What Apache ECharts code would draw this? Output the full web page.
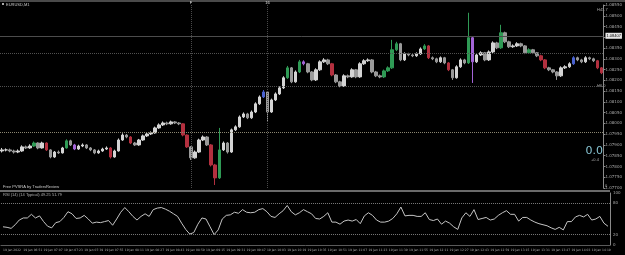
<!DOCTYPE html>
<html><head><meta charset="utf-8">
<script src="https://cdn.jsdelivr.net/npm/echarts@6/dist/echarts.min.js"></script>
<style>html,body{margin:0;padding:0;background:#000;}#c{width:625px;height:255px;}</style>
</head><body><div id="c"></div>
<script>
// price values in points above 1.07700 (1 point = 0.00001)
const opens = [172,177,177,172,167,172,191,186,195,209, 186,209,177,144,167,163,186,219,200,181, 195,200,186,177,163,172,181,186,144,172, 223,246,237,209,200,223,242,251,256,279, 293,302,298,307,302,298,246,191,140,167, 223,237,200,107,47,177,209,167,270,284, 330,344,326,353,391,423,446,353,409,437, 465,512,558,493,539,586,577,539,502,549, 586,595,577,525,493,474,521,516,549,516, 577,591,595,539,521,516,544,558,642,670, 595,623,618,614,623,646,660,605,600,586, 605,581,549,512,563,595,581,698,586,618, 628,595,632,674,651,721,679,656,660,670, 660,628,642,628,614,595,558,549,539,521, 558,563,577,605,595,586,605,600,591,558];
const closes = [177,177,172,167,172,191,186,195,209,186, 209,177,144,167,163,186,219,200,181,195, 200,186,177,163,172,181,186,144,172,223, 246,237,209,200,223,242,251,256,279,293, 302,298,307,302,298,246,191,140,167,223, 237,200,107,47,177,209,167,270,284,330, 344,326,353,391,423,446,353,409,437,465, 512,558,493,539,586,577,539,502,549,586, 595,577,525,493,474,521,516,549,516,577, 591,595,539,521,516,544,558,642,670,595, 623,618,614,623,646,660,605,600,586,605, 581,549,512,563,595,581,698,586,618,628, 595,632,674,651,721,679,656,660,670,660, 628,642,628,614,595,558,549,539,521,558, 563,577,605,595,586,605,600,591,558,535];
const highs = [186,184,183,178,179,198,197,203,216,212, 215,212,180,172,174,191,226,224,205,201, 207,204,190,181,178,187,193,190,178,230, 254,251,241,214,228,248,257,263,285,300, 309,308,313,311,306,301,249,195,174,229, 244,241,204,112,279,216,213,276,291,337, 351,349,360,398,430,455,450,415,444,472, 519,567,562,546,595,593,581,543,556,593, 603,600,581,529,498,528,527,556,553,584, 598,602,599,544,527,550,565,688,679,674, 630,628,624,630,653,668,664,611,605,611, 609,585,553,570,602,600,814,703,625,635, 632,639,681,679,758,726,684,667,677,675, 664,649,646,632,619,599,563,553,543,565, 570,584,612,610,600,612,610,605,595,562];
const lows = [165,170,166,160,162,168,181,182,191,180, 183,172,138,140,158,160,183,195,176,177, 190,181,171,157,159,168,177,137,141,169, 219,231,204,195,196,219,237,246,252,275, 288,292,294,297,292,240,186,130,136,163, 218,195,100,14,42,172,160,163,265,280, 325,320,321,348,386,418,307,349,404,432, 460,507,487,489,534,570,533,496,497,544, 581,571,519,487,468,470,510,512,510,512, 572,586,533,515,510,511,539,553,636,589, 590,612,608,609,618,641,599,594,580,581, 575,543,502,508,558,575,576,488,581,613, 589,590,627,645,646,673,650,651,655,654, 622,623,622,608,589,552,543,533,502,516, 553,558,572,589,580,581,594,585,552,529];
const climaxIdx = [8,11,16,27,32,45,46,52,53,54,71,74,82,95,96,97,98,105,106,111,116,124,131,134,135,148,149];
const risingIdx = [18,65,75,117,142];
const rsi = [35,34,32,39,48,52,52,59,52,56, 45,36,33,43,45,53,64,60,51,52, 57,50,42,44,43,45,47,38,50,63, 72,64,55,48,55,60,55,68,71,72, 69,65,60,55,42,30,21,24,40,52, 50,35,20,29,50,57,58,63,61,68, 63,62,63,68,70,64,55,53,60,66, 76,64,58,62,68,64,60,51,50,55, 62,44,44,40,46,48,46,49,41,56, 62,57,48,44,44,46,51,60,73,56, 57,57,55,55,62,49,47,50,40,46, 42,35,30,52,62,55,68,49,51,53, 48,50,57,62,66,59,59,46,53,53, 48,44,41,39,37,33,30,34,29,45, 45,54,57,54,59,48,50,55,42,36];
const timeLabels = ['19 Jan 2022','19 Jan 06:51','19 Jan 07:07','19 Jan 07:23','19 Jan 07:39','19 Jan 07:55','19 Jan 08:11','19 Jan 08:27','19 Jan 08:43','19 Jan 08:59','19 Jan 09:15','19 Jan 09:31','19 Jan 09:47','19 Jan 10:03','19 Jan 10:19','19 Jan 10:35','19 Jan 10:51','19 Jan 11:07','19 Jan 11:23','19 Jan 11:39','19 Jan 11:55','19 Jan 12:11','19 Jan 12:27','19 Jan 12:43','19 Jan 12:59','19 Jan 13:15','19 Jan 13:31','19 Jan 13:47','19 Jan 14:03','19 Jan 14:19'];
const levelLines = [707, 628, 474, 260];
const rsiLevels = [20, 80];
const vLineIdx = [47, 66];
const vLineText = ['F', '16'];
const priceBase = 1.077;

const fmtPrice = v => (priceBase + v / 100000).toFixed(5);
const categories = closes.map((_, i) => String(i));
const candleData = closes.map((c, i) => {
  const bull = c >= opens[i];
  let col;
  if (climaxIdx.includes(i)) col = bull ? '#2f9a55' : '#b3303f';
  else if (risingIdx.includes(i)) col = bull ? '#4a62d0' : '#a464d8';
  else col = bull ? '#d4d4d4' : '#9a9a9a';
  return { value: [opens[i], c, lows[i], highs[i]], itemStyle: { color: col, color0: col, borderColor: col, borderColor0: col, borderWidth: 1 } };
});

const chart = echarts.init(document.getElementById('c'), null, { renderer: 'canvas' });
const small = { fontSize: 4, color: '#a8a8a8', fontFamily: 'DejaVu Sans' };
chart.setOption({
  backgroundColor: '#000000',
  animation: false,
  grid: [
    { left: 0, right: 15, top: 5, height: 183 },
    { left: 0, right: 15, top: 193, height: 52 }
  ],
  xAxis: [
    { type: 'category', gridIndex: 0, data: categories, boundaryGap: true, axisLine: { show: false }, axisTick: { show: false }, axisLabel: { show: false }, splitLine: { show: false } },
    { type: 'category', gridIndex: 1, data: categories, boundaryGap: true,
      axisLine: { show: true, lineStyle: { color: '#5a5a5a' } }, axisTick: { show: false },
      axisLabel: Object.assign({}, small, { fontSize: 3, interval: 4, align: 'left', margin: 4, formatter: (v, idx) => timeLabels[Math.round(idx / 5)] || '' }),
      splitLine: { show: false } }
  ],
  yAxis: [
    { type: 'value', gridIndex: 0, position: 'right', min: 0, max: 850, interval: 50,
      axisLine: { show: true, lineStyle: { color: '#8a8a8a' } }, axisTick: { show: true, length: 2, lineStyle: { color: '#8a8a8a' } },
      axisLabel: Object.assign({ margin: 2, formatter: fmtPrice }, small), splitLine: { show: false } },
    { type: 'value', gridIndex: 1, position: 'right', min: 0, max: 100, interval: 20,
      axisLine: { show: true, lineStyle: { color: '#8a8a8a' } }, axisTick: { show: false },
      axisLabel: Object.assign({ margin: 3, formatter: v => ([0, 20, 80, 100].includes(v) ? String(v) : '') }, small), splitLine: { show: false } }
  ],
  series: [
    { type: 'candlestick', xAxisIndex: 0, yAxisIndex: 0, data: candleData, barWidth: 3,
      markLine: { silent: true, symbol: ['none', 'none'],
        data: [
          ...vLineIdx.map((ix, k) => ({ xAxis: ix, lineStyle: { color: '#4a4a4a', type: 'dotted', width: 1 },
            label: { show: true, position: 'end', formatter: vLineText[k], fontSize: 4, color: '#e0e0e0', distance: 0 } })),
          ...levelLines.map((lv, k) => ({ yAxis: lv,
            lineStyle: { color: k === 0 ? '#4c4c4c' : (k === 3 ? '#8a8570' : '#505050'), type: k === 0 ? 'solid' : 'dotted', width: 1 },
            label: k === 0 ? { show: true, position: 'end', formatter: fmtPrice(lv), fontSize: 4, color: '#000', backgroundColor: '#e6e6e6', padding: [1, 1], distance: 2 } : { show: false } }))
        ] } },
    { type: 'line', xAxisIndex: 1, yAxisIndex: 1, data: rsi, symbol: 'none', lineStyle: { color: '#c4c4c4', width: 1 },
      markLine: { silent: true, symbol: ['none', 'none'], label: { show: false },
        data: rsiLevels.map(v => ({ yAxis: v })), lineStyle: { color: '#7a7a7a', type: 'dotted', width: 1 } } }
  ],
  graphic: [
    { type: 'rect', left: 0, top: 0, shape: { width: 625, height: 2 }, style: { fill: '#4a4a4a' }, silent: true },
    { type: 'rect', left: 0, top: 190, shape: { width: 610, height: 2 }, style: { fill: '#6a6a6a' }, silent: true },
    { type: 'rect', left: 2, top: 3, shape: { width: 2, height: 2 }, style: { fill: '#aaaaaa' } },
    { type: 'text', left: 6, top: 2.5, style: { text: 'EURUSD,M1', fontSize: 4, fill: '#c8c8c8' } },
    { type: 'text', left: 3, top: 185, style: { text: 'Free PVSRA by TradersReview', fontSize: 4, fill: '#c8c8c8' } },
    { type: 'text', left: 3, top: 193, style: { text: 'RSI (14) (14 Typical) 49.25 51.79', fontSize: 4, fill: '#b0b0b0' } },
    { type: 'text', left: 597, top: 8, style: { text: 'H43.7', fontSize: 4, fill: '#aaaaaa' } },
    { type: 'text', left: 597, top: 84, style: { text: 'H6.0', fontSize: 4, fill: '#aaaaaa' } },
    { type: 'text', z: 100, right: 22, top: 146, style: { text: '0.0', fontSize: 11, fill: '#86c3d2', fontFamily: 'DejaVu Sans' } },
    { type: 'text', z: 100, left: 591, top: 158, style: { text: '+0.4', fontSize: 4, fill: '#a8a8a8' } },
    { type: 'text', left: 605, top: 184, style: { text: '0', fontSize: 4, fill: '#a8a8a8' } }
  ]
});
</script></body></html>
